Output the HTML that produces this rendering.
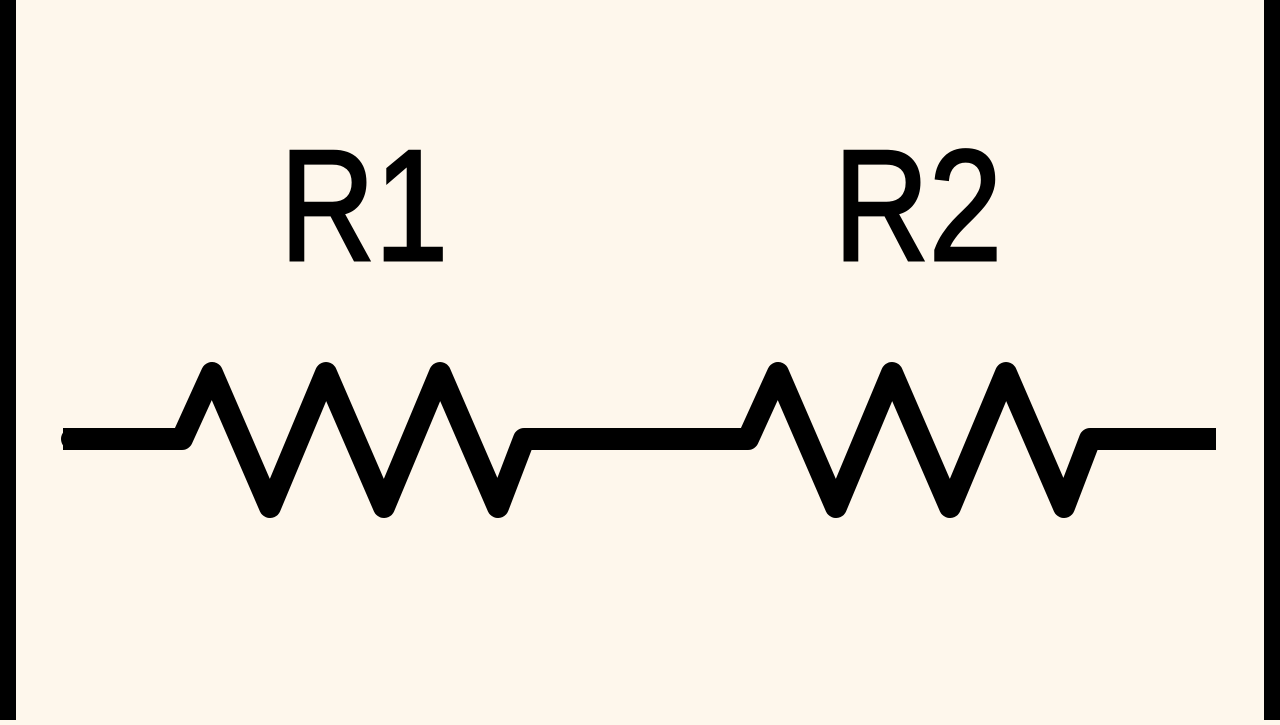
<!DOCTYPE html>
<html><head><style>html,body{margin:0;padding:0;background:#fef7ec;}</style></head>
<body>
<svg width="1280" height="720" viewBox="0 0 1280 720" xmlns="http://www.w3.org/2000/svg">
<rect width="1280" height="720" fill="#fef7ec"/>
<rect x="0" y="0" width="16" height="720" fill="#000"/>
<rect x="1264" y="0" width="16" height="720" fill="#000"/>
<g fill="none" stroke="#000" stroke-width="22" stroke-linejoin="round" stroke-linecap="round">
<path d="M72 439 L182 439 L212 373 L270 507 L326 373 L384 507 L440 373 L498 507 L524 439 L640 439 L748 439 L778 373 L836 507 L892 373 L950 507 L1006 373 L1064 507 L1090 439 L1205 439"/>
</g>
<rect x="63" y="428" width="14" height="22" fill="#000"/>
<rect x="1200" y="428" width="16" height="22" fill="#000"/>
<g font-family="Liberation Sans, sans-serif" font-size="158" fill="#000" stroke="#000" stroke-width="3">
<text x="280" y="260" textLength="168" lengthAdjust="spacingAndGlyphs">R1</text>
<text x="834" y="260" textLength="168" lengthAdjust="spacingAndGlyphs">R2</text>
</g>
</svg>
</body></html>
